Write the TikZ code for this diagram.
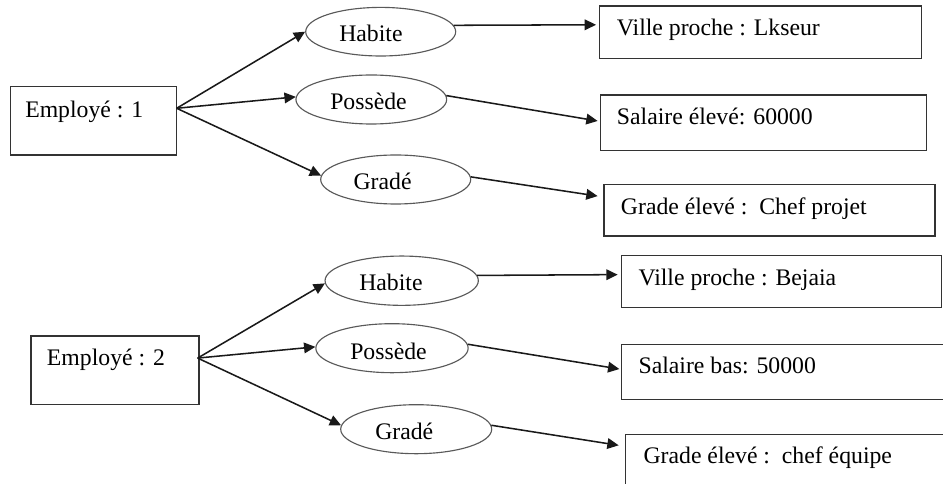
\documentclass[tikz,border=0pt]{standalone}
\usepackage{fontspec}
\setmainfont{Liberation Serif}
\usetikzlibrary{arrows.meta,shapes.geometric}
\begin{document}
\begin{tikzpicture}[x=0.75pt,y=-0.75pt,
  sz/.style 2 args={minimum width=#1*0.75pt,minimum height=#2*0.75pt},
  box/.style={draw=black!80,line width=1pt,rectangle,inner sep=0pt},
  rel/.style={draw=black!65,line width=0.85pt,ellipse,inner sep=0pt},
  lbl/.style={anchor=base west,inner sep=0pt,font=\fontsize{17.8}{20}\selectfont},
  link/.style={draw=black!90,line width=1.15pt,-{Triangle[length=8.5pt,width=8pt]}}]
\useasboundingbox (0,0) rectangle (943,484);
\clip (0,0) rectangle (943,484);

% ---------- employee 1 ----------
\node[box,sz={166}{68.3}] (e1) at (93.7,120.8) {};
\node[rel,sz={150}{48.6}] (h1) at (380.7,31.7) {};
\node[rel,sz={150.7}{49}] (p1) at (371.3,99.5) {};
\node[rel,sz={150}{49}] (g1) at (395.7,179.5) {};
\node[box,sz={322.4}{52.3}] (v1) at (760.5,32.2) {};
\node[box,sz={326}{55.7}] (s1) at (763.7,122.8) {};
\node[box,sz={331}{51.7}] (gr1) at (769.5,210.2) {};

\node[lbl] (e1t) at (25,117.5) {Employé : 1};
\node[lbl] (h1t) at (339,41.7) {Habite};
\node[lbl] (p1t) at (330,109.3) {Possède};
\node[lbl] (g1t) at (353.3,190) {Gradé};
\node[lbl] (v1t) at (616.7,36) {Ville proche : Lkseur};
\node[lbl] (s1t) at (616.7,125) {Salaire élevé: 60000};
\node[lbl] (gr1t) at (620.7,215) {Grade élevé :\ \ Chef projet};

\coordinate (e1o) at ([shift={(-0.7,22.3)}]e1.north east);
\draw[link] (e1o) -- (h1.west);
\draw[link] (e1o) -- (p1.178);
\draw[link] (e1o) -- (g1.177);
\draw[link] (h1.5) -- ([shift={(-2.6,19.4)}]v1.north west);
\draw[link] (p1.3) -- ([shift={(-2.4,26.7)}]s1.north west);
\draw[link] (g1.2) -- ([shift={(-5.7,12.4)}]gr1.north west);

% ---------- employee 2 ----------
\node[box,sz={168}{68.3}] (e2) at (115,370.2) {};
\node[rel,sz={153.3}{49.3}] (h2) at (401.7,280.7) {};
\node[rel,sz={152.3}{49}] (p2) at (392,348.2) {};
\node[rel,sz={151}{49}] (g2) at (416.2,429.2) {};
\node[box,sz={320}{52.4}] (v2) at (781.7,281.5) {};
\node[box,sz={338.3}{55.2}] (s2) at (790.9,372.1) {};
\node[box,sz={334.3}{65.4}] (gr2) at (792.9,467) {};

\node[lbl] (e2t) at (46.7,366) {Employé : 2};
\node[lbl] (h2t) at (359,291) {Habite};
\node[lbl] (p2t) at (350,359.3) {Possède};
\node[lbl] (g2t) at (375,439.3) {Gradé};
\node[lbl] (v2t) at (638.3,285.3) {Ville proche : Bejaia};
\node[lbl] (s2t) at (638.3,373.7) {Salaire bas: 50000};
\node[lbl] (gr2t) at (643.3,463.7) {Grade élevé :\ \ chef équipe};

\coordinate (e2o) at ([shift={(-2,22.7)}]e2.north east);
\draw[link] (e2o) -- (h2.182);
\draw[link] (e2o) -- (p2.179);
\draw[link] (e2o) -- (g2.177);
\draw[link] (h2.4) -- ([shift={(-3.4,20)}]v2.north west);
\draw[link] (p2.3) -- ([shift={(-1.7,25.2)}]s2.north west);
\draw[link] (g2.3) -- ([shift={(-6.4,11.7)}]gr2.north west);
\end{tikzpicture}
\end{document}
